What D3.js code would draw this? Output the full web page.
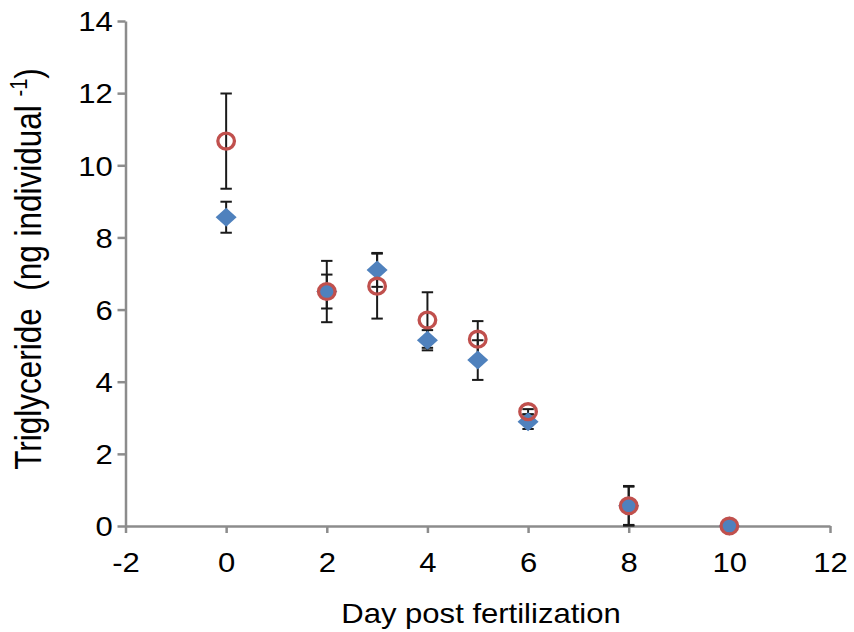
<!DOCTYPE html>
<html>
<head>
  <meta charset="UTF-8">
  <script src="https://d3js.org/d3.v7.js"></script>
  <style>
    body { margin: 0; background: #fff; }
    text { font-family: "Liberation Sans", Arial, sans-serif; fill: #000; }
  </style>
</head>
<body>
  <div id="chart"></div>
  <script>
    // data
    const days = [0, 2, 3, 4, 5, 6, 8, 10];
    const diamondVals = [8.56, 6.50, 7.10, 5.15, 4.60, 2.89, 0.56, 0.0];
    const diamondErr  = [0.43, 0.47, 0.47, 0.28, 0.55, 0.20, 0.53, 0.0];
    const circleVals  = [10.67, 6.50, 6.65, 5.71, 5.18, 3.17, 0.56, 0.0];
    const circleErr   = [1.32, 0.85, 0.90, 0.77, 0.50, 0.07, 0.55, 0.0];
    const xTicks = [-2, 0, 2, 4, 6, 8, 10, 12];
    const yTicks = [0, 2, 4, 6, 8, 10, 12, 14];

    const W = 854, H = 632;
    const stretch = 1.15;   // the picture is a bit wider than tall
    const axisColor = '#8c8c8c';

    const svg = d3.select('#chart').append('svg')
      .attr('width', W).attr('height', H);

    const x = d3.scaleLinear().domain([-2, 12]).range([125.5, 830]);
    const y = d3.scaleLinear().domain([0, 14]).range([526, 21]);

    // axes
    const gx = svg.append('g')
      .attr('transform', `translate(0,${y(0)})`)
      .call(d3.axisBottom(x).tickValues(xTicks).tickFormat(d => String(d))
        .tickSize(7).tickPadding(20).tickSizeOuter(0));
    const gy = svg.append('g')
      .attr('transform', `translate(${x(-2)},0)`)
      .call(d3.axisLeft(y).tickValues(yTicks).tickFormat(d => String(d))
        .tickSize(8).tickPadding(3).tickSizeOuter(0));

    [gx, gy].forEach(g => {
      g.select('.domain').attr('stroke', axisColor).attr('stroke-width', 2.5);
      g.selectAll('.tick line').attr('stroke', axisColor).attr('stroke-width', 2.5);
      g.selectAll('.tick text')
        .attr('font-size', 27)
        .attr('font-family', '"Liberation Sans", Arial, sans-serif')
        .attr('fill', '#000')
        .attr('transform', `scale(${stretch},1)`);
    });
    gx.selectAll('.tick text').attr('dy', '0.71em');
    gy.selectAll('.tick text').attr('dy', '0.36em');

    // error bars
    const cap = 5.7;
    function errorBars(vals, errs) {
      const g = svg.append('g').attr('stroke', '#1a1a1a').attr('stroke-width', 2);
      const rows = days.map((d, i) => ({ d, v: vals[i], e: errs[i] })).filter(r => r.e > 0);
      g.selectAll('line.v').data(rows).join('line')
        .attr('x1', r => x(r.d)).attr('x2', r => x(r.d))
        .attr('y1', r => y(r.v - r.e)).attr('y2', r => y(r.v + r.e));
      g.selectAll('line.t').data(rows).join('line').attr('class', 't')
        .attr('x1', r => x(r.d) - cap).attr('x2', r => x(r.d) + cap)
        .attr('y1', r => y(r.v + r.e)).attr('y2', r => y(r.v + r.e));
      g.selectAll('line.b').data(rows).join('line').attr('class', 'b')
        .attr('x1', r => x(r.d) - cap).attr('x2', r => x(r.d) + cap)
        .attr('y1', r => y(r.v - r.e)).attr('y2', r => y(r.v - r.e));
    }
    errorBars(diamondVals, diamondErr);
    errorBars(circleVals, circleErr);

    // diamonds
    svg.append('g').selectAll('path')
      .data(days.map((d, i) => ({ d, v: diamondVals[i] })))
      .join('path')
        .attr('d', 'M0,-9.5L10.5,0L0,9.5L-10.5,0Z')
        .attr('transform', r => `translate(${x(r.d)},${y(r.v)})`)
        .attr('fill', '#4f81bd');

    // circles
    svg.append('g').selectAll('ellipse')
      .data(days.map((d, i) => ({ d, v: circleVals[i] })))
      .join('ellipse')
        .attr('cx', r => x(r.d)).attr('cy', r => y(r.v))
        .attr('rx', 8.3).attr('ry', 7.9)
        .attr('fill', 'none')
        .attr('stroke', '#c0504d')
        .attr('stroke-width', 3.3);

    // axis titles
    svg.append('text')
      .attr('transform', `translate(481,623) scale(${stretch},1)`)
      .attr('text-anchor', 'middle')
      .attr('font-size', 27)
      .text('Day post fertilization');

    const yl = svg.append('text')
      .attr('transform', `translate(41,269) scale(${stretch},1) rotate(-90)`)
      .attr('text-anchor', 'middle')
      .attr('font-size', 31.5);
    yl.append('tspan').text('Triglyceride\u00a0 (ng individual ');
    yl.append('tspan').attr('font-size', 20).attr('dy', -12).text('-1');
    yl.append('tspan').attr('dy', 12).text(')');
  </script>
</body>
</html>
